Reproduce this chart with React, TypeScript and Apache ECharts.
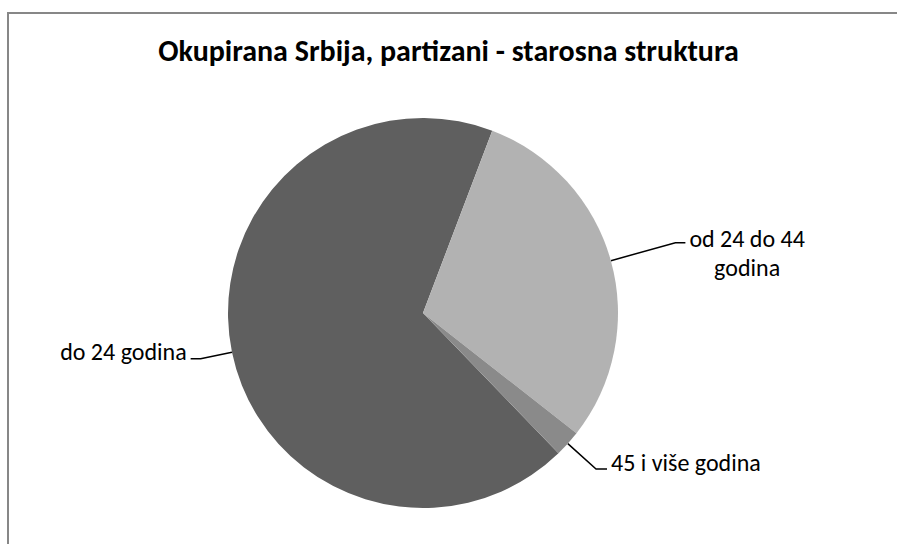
import React, { useEffect, useRef } from "react";
import * as echarts from "echarts";

const titleText = "Okupirana Srbija, partizani - starosna struktura";
const categories = ["do 24 godina", "od 24 do 44 godina", "45 i više godina"];
const values = [68.0, 29.8, 2.2];
const labelLines = [["do 24 godina"], ["od 24 do 44", "godina"], ["45 i više godina"]];
const colors = ["#5f5f5f", "#b2b2b2", "#8a8a8a"];
const lineLen = [32, 67, 38];
const lineLen2 = [10, 10, 11];
const labelPad = [
  [0, 0, 14, 0],
  [20, 0, 0, 0],
  [0, 0, 14, 0],
];

const FONT = "Carlito, Calibri, Lato, sans-serif";

export default function App() {
  const ref = useRef<HTMLDivElement>(null);
  useEffect(() => {
    if (!ref.current) return;
    const chart = echarts.init(ref.current, undefined, { renderer: "svg" });
    const data = categories.map((name, i) => ({
      name,
      value: values[i],
      itemStyle: { color: colors[i] },
      label: { padding: labelPad[i] },
      labelLine: { length: lineLen[i], length2: lineLen2[i] },
    }));
    chart.setOption({
      animation: false,
      backgroundColor: "#ffffff",
      textStyle: { fontFamily: FONT },
      title: {
        text: titleText,
        left: "center",
        top: 30,
        textStyle: { fontFamily: FONT, fontWeight: "bold", fontSize: 30, color: "#000" },
      },
      graphic: [
        {
          type: "rect",
          shape: { x: 8, y: 13, width: 1000, height: 1000 },
          style: { fill: "none", stroke: "#878787", lineWidth: 2 },
          silent: true,
        },
      ],
      series: [
        {
          type: "pie",
          center: [423, 313],
          radius: 195,
          startAngle: -46,
          clockwise: true,
          avoidLabelOverlap: false,
          itemStyle: { borderWidth: 0 },
          emphasis: { disabled: true },
          label: {
            show: true,
            position: "outside",
            distanceToLabelLine: 4,
            formatter: (p: any) =>
              labelLines[p.dataIndex].map((l) => `{c|${l}}`).join("\n"),
            rich: {
              c: {
                fontFamily: FONT,
                fontSize: 24,
                lineHeight: 29,
                color: "#000",
                align: "center",
              },
            },
          },
          labelLine: {
            show: true,
            lineStyle: { color: "#000", width: 1.5 },
          },
          data,
        },
      ],
    });
    return () => chart.dispose();
  }, []);
  return (
    <div
      ref={ref}
      style={{ position: "fixed", left: 0, top: 0, width: 897, height: 544 }}
    />
  );
}
